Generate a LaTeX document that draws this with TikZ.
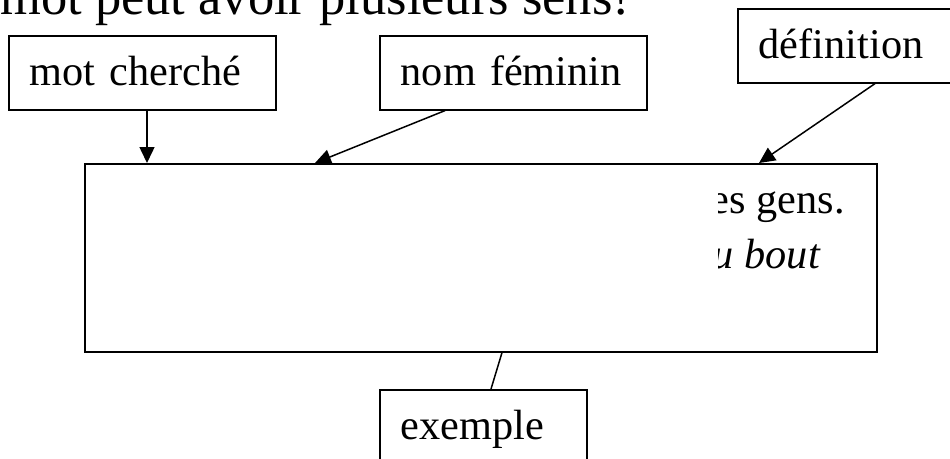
\documentclass[tikz,border=0pt]{standalone}
\usepackage{fontspec}
\setmainfont{Liberation Serif}
\usetikzlibrary{arrows.meta}
\begin{document}
\begin{tikzpicture}[x=1pt,y=-1pt,
  lbl/.style={draw=black, line width=1.6pt, anchor=north west, minimum height=74pt,
    inner xsep=21pt, inner ysep=0pt, align=left, text height=30pt, text depth=4pt,
    font=\fontsize{42.3}{48}\selectfont},
  bigbox/.style={draw=black, line width=1.6pt, anchor=north west, minimum width=792pt,
    minimum height=188pt, inner sep=0pt},
  inbox/.style={anchor=base east, inner sep=0pt, font=\fontsize{42.3}{48}\selectfont},
  arr/.style={line width=1.5pt, -{Triangle[length=16pt,width=15pt]}},
  plain/.style={line width=1.5pt}]
\useasboundingbox (0,0) rectangle (950,458);
\node[anchor=base west, inner sep=0pt, font=\fontsize{52.5}{60}\selectfont] (title) at (0,14) {mot peut avoir plusieurs sens!};
\node[lbl, text width=225pt] (mc) at (8,35) {mot cherché};
\node[lbl, text width=225pt] (nf) at (379,35) {nom féminin};
\node[lbl, text width=208pt] (def) at (737,8) {définition};
\node[bigbox] (big) at (84,163) {};
\node[lbl, text width=165pt] (ex) at (379,389) {exemple};
\begin{scope}
  \clip (718,170) rectangle (870,345);
  \node[inbox] (l1) at (845,213) {es gens.};
  \node[inbox] (l2) at (820,268) {\itshape u bout};
\end{scope}
\draw[arr] ([xshift=139pt]mc.south west) -- ([xshift=63pt]big.north west);
\draw[arr] ([xshift=66pt]nf.south west) -- ([xshift=231pt]big.north west);
\draw[arr] ([xshift=138pt]def.south west) -- ([xshift=675pt]big.north west);
\draw[plain] ([xshift=418pt]big.south west) -- ([xshift=112pt]ex.north west);
\end{tikzpicture}
\end{document}
